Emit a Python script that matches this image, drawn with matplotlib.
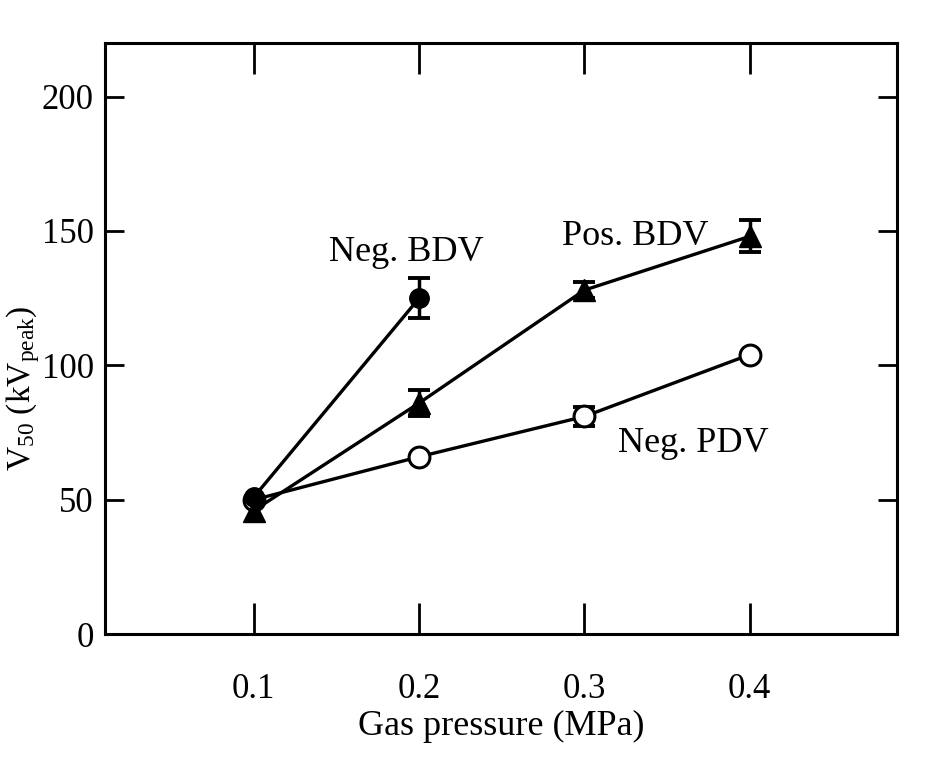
import matplotlib
matplotlib.use("Agg")
import matplotlib.pyplot as plt

plt.rcParams['font.family'] = ['Liberation Serif', 'DejaVu Serif']
plt.rcParams['mathtext.fontset'] = 'custom'
plt.rcParams['mathtext.rm'] = 'Liberation Serif'
plt.rcParams['mathtext.it'] = 'Liberation Serif:italic'

# gas pressure (MPa)
pressure = [0.1, 0.2, 0.3, 0.4]

# negative breakdown voltage (filled circles)
neg_bdv_x = [0.1, 0.2]
neg_bdv = [51, 125]
neg_bdv_err = [0, 7.5]

# positive breakdown voltage (filled triangles)
pos_bdv = [46, 86, 128, 148]
pos_bdv_err = [0, 5, 3, 6]

# negative partial discharge voltage (open circles)
neg_pdv = [50, 66, 81, 104]
neg_pdv_err = [0, 0, 3.5, 0]


def draw_series(ax, x, y, err, z, **mk):
    # error bars only where the source shows them
    ex = [a for a, e in zip(x, err) if e > 0]
    ey = [b for b, e in zip(y, err) if e > 0]
    ee = [e for e in err if e > 0]
    ax.errorbar(ex, ey, yerr=ee, fmt='none', ecolor='black',
                capsize=8, capthick=2.8, elinewidth=2.5, zorder=z)
    ax.plot(x, y, color='black', lw=2.4, zorder=z + 0.5, **mk)


fig = plt.figure(figsize=(9.42, 7.65), dpi=100)
ax = fig.add_axes([0.1115, 0.171, 0.8405, 0.773])

draw_series(ax, pressure, neg_pdv, neg_pdv_err, 2,
            marker='o', ms=15, mfc='white', mec='black', mew=2.2)
draw_series(ax, pressure, pos_bdv, pos_bdv_err, 3,
            marker='^', ms=16, mfc='black', mec='black')
draw_series(ax, neg_bdv_x, neg_bdv, neg_bdv_err, 4,
            marker='o', ms=14, mfc='black', mec='black')

ax.text(0.192, 142, 'Neg. BDV', fontsize=26, ha='center', va='center')
ax.text(0.331, 148, 'Pos. BDV', fontsize=26, ha='center', va='center')
ax.text(0.366, 71, 'Neg. PDV', fontsize=26, ha='center', va='center')

ax.set_xlim(0.01, 0.489)
ax.set_ylim(0, 220)
ax.set_xticks(pressure)
ax.set_xticklabels(['0.1', '0.2', '0.3', '0.4'])
ax.set_yticks([0, 50, 100, 150, 200])
ax.tick_params(direction='in', top=True, right=True, labelsize=25, width=2)
ax.tick_params(axis='x', length=22, pad=28)
ax.tick_params(axis='y', length=14, pad=8)
for s in ax.spines.values():
    s.set_linewidth(2.2)

ax.set_xlabel('Gas pressure (MPa)', fontsize=26, labelpad=3)
ax.set_ylabel(r'V$_{50}$ (kV$_{\mathrm{peak}}$)', fontsize=24,
              va='center', ha='center')
ax.yaxis.set_label_coords(-0.104, 0.416)

fig.savefig('out.png', dpi=100)
